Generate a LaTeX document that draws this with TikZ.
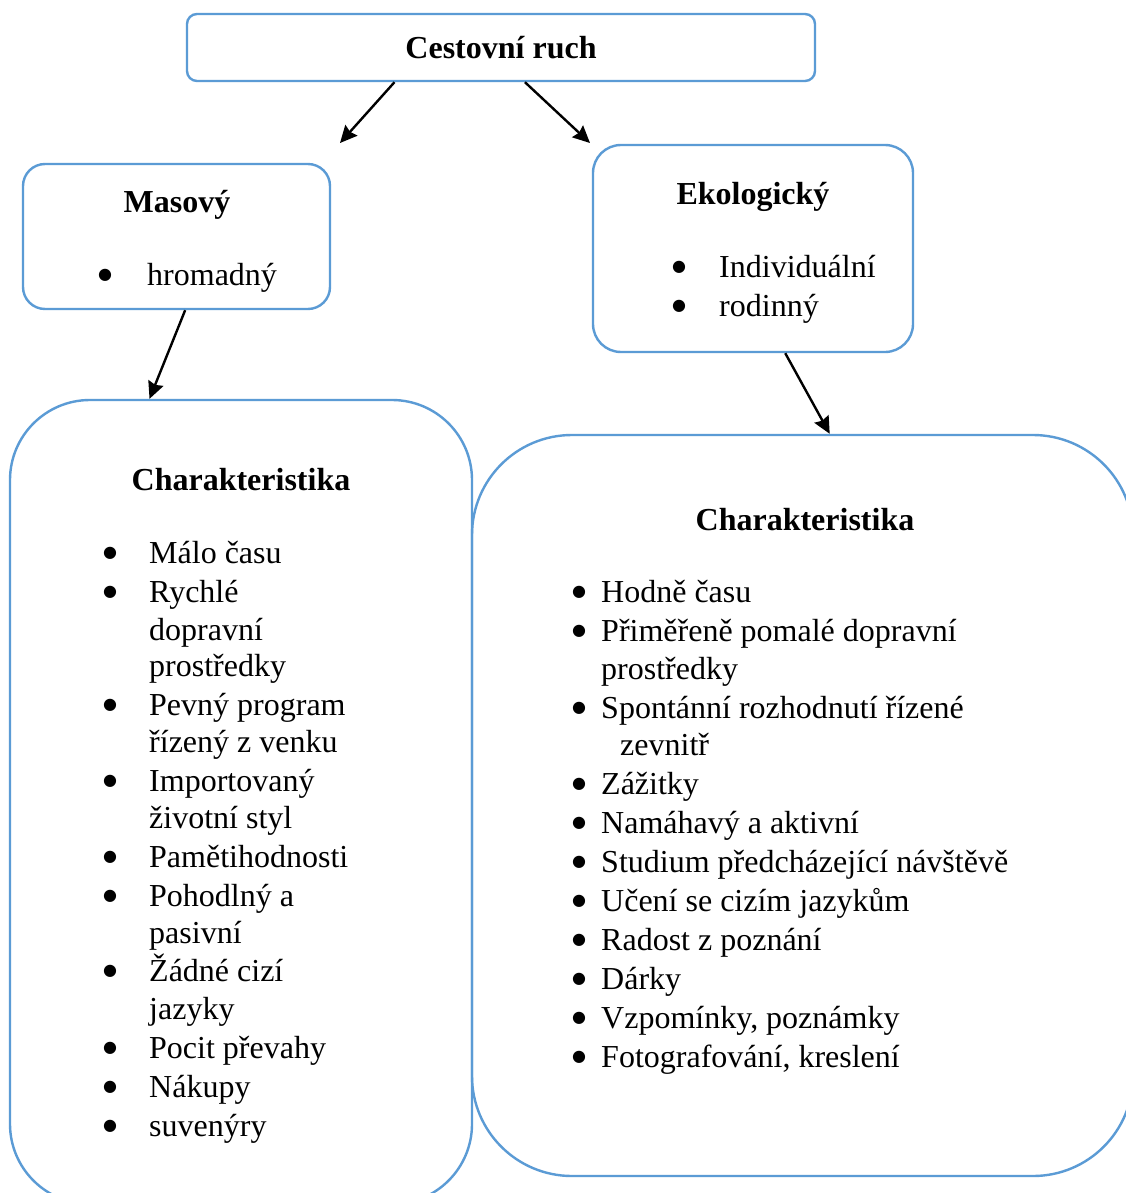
\documentclass[tikz,border=0pt]{standalone}
\usepackage{fontspec}
\setmainfont{Liberation Serif}
\newfontfamily\dotfont{DejaVu Sans}
\usetikzlibrary{arrows.meta, calc}

\definecolor{boxblue}{RGB}{91,155,213}
\tikzset{
  box/.style={draw=boxblue, line width=2.4pt, inner sep=0pt},
  head/.style={font=\fontsize{32}{38}\selectfont\bfseries, inner sep=0pt},
  item/.style={anchor=base west, inner sep=0pt},
  bul/.style={inner sep=0pt, font=\dotfont\fontsize{16}{16}\selectfont},
  arr/.style={-{Stealth[length=17pt,width=16pt,inset=2pt]}, line width=2.4pt},
}

\begin{document}
\begin{tikzpicture}[x=1pt, y=-1pt, font=\fontsize{32}{38}\selectfont]
  \clip (0,0) rectangle (1126,1193);
  \fill[white] (0,0) rectangle (1126,1193);

  \node (cr) [box, rounded corners=10pt, minimum width=628pt, minimum height=67pt, font=\fontsize{32}{38}\selectfont\bfseries] at (501,47.5) {Cestovní ruch};
  \node (mas) [box, rounded corners=22pt, minimum width=307pt, minimum height=145pt] at (176.5,236.5) {};
  \node (eko) [box, rounded corners=28pt, minimum width=320pt, minimum height=207pt] at (753,248.5) {};
  \node (lch) [box, rounded corners=80pt, minimum width=462pt, minimum height=804pt] at (241,802) {};
  \node (rch) [box, rounded corners=100pt, minimum width=661pt, minimum height=741pt] at (802.5,805.5) {};

  \coordinate (masin) at (340,143);
  \coordinate (ekoin) at (590,143);
  \draw[arr] ($(cr.south west)!0.331!(cr.south east)$) -- (masin);
  \draw[arr] ($(cr.south west)!0.538!(cr.south east)$) -- (ekoin);
  \draw[arr] ($(mas.south west)!0.528!(mas.south east)$) -- ($(lch.north west)!0.303!(lch.north east)$);
  \draw[arr] ($(eko.south west)!0.6!(eko.south east)$) -- ($(rch.north west)!0.541!(rch.north east)$);

  \node (mash) [head] at (177,205) {Masový};
  \node (masb) [bul] at (105,275) {●};
  \node (mast) [item] at (147,285) {hromadný};

  \node (ekoh) [head] at (753,197) {Ekologický};
  \node (ekob1) [bul] at (679,267) {●};
  \node (ekob2) [bul] at (679,306) {●};
  \node (ekot1) [item] at (719,277) {Individuální};
  \node (ekot2) [item] at (719,316) {rodinný};

  \node (lchh) [head] at (241,480) {Charakteristika};
  \foreach \y in {553,592,705,781,857,896,971,1048,1087,1126}
    \node (lb\y) [bul] at (110,\y) {●};
  \foreach \y/\t in {553/Málo času, 592/Rychlé, 630/dopravní, 666/prostředky,
      705/Pevný program, 742/řízený z venku, 781/Importovaný, 818/životní styl,
      857/Pamětihodnosti, 896/Pohodlný a, 933/pasivní, 971/Žádné cizí,
      1009/jazyky, 1048/Pocit převahy, 1087/Nákupy, 1126/suvenýry}
    \node (lt\y) [item] at (149,\y+10) {\t};

  \node (rchh) [head] at (805,520) {Charakteristika};
  \foreach \y in {592,631,708,784,823,862,901,940,979,1018,1057}
    \node (rb\y) [bul] at (579,\y) {●};
  \foreach \y/\t in {592/Hodně času, 631/Přiměřeně pomalé dopravní, 669/prostředky,
      708/Spontánní rozhodnutí řízené, 784/Zážitky, 823/Namáhavý a aktivní,
      862/Studium předcházející návštěvě, 901/Učení se cizím jazykům,
      940/Radost z poznání, 979/Dárky, 1018/{Vzpomínky, poznámky},
      1057/{Fotografování, kreslení}}
    \node (rt\y) [item] at (601,\y+10) {\t};
  \node (rt745) [item] at (620,755) {zevnitř};
\end{tikzpicture}
\end{document}
